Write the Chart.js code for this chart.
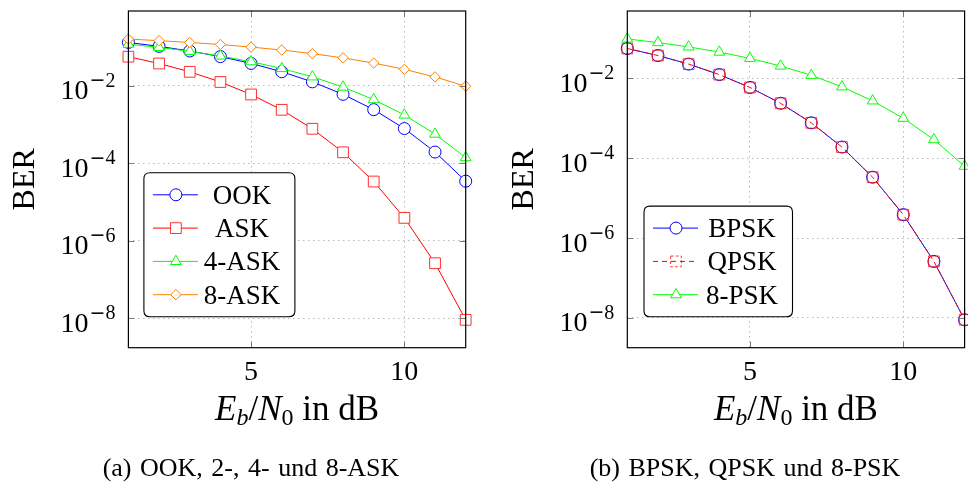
<!DOCTYPE html>
<html><head><meta charset="utf-8">
<script src="https://cdn.jsdelivr.net/npm/chart.js@4.4.1/dist/chart.umd.min.js"></script>
<style>
html,body{margin:0;padding:0;background:#fff;}
#wrap{position:relative;width:968px;height:490px;overflow:hidden;background:#fff;}
.cv{position:absolute;top:0;width:484px;height:490px;}
.cap{position:absolute;top:452px;font-family:"Liberation Serif","Times New Roman",serif;font-size:26px;line-height:32px;color:#000;white-space:nowrap;text-align:center;width:420px;word-spacing:2px;}
</style></head>
<body><div id="wrap">
<div class="cv" style="left:0"><canvas id="c1" width="484" height="490"></canvas></div>
<div class="cv" style="left:484px"><canvas id="c2" width="484" height="490"></canvas></div>
<div class="cap" style="left:41px">(a) OOK, 2-, 4- und 8-ASK</div>
<div class="cap" style="left:535px">(b) BPSK, QPSK und 8-PSK</div>
</div>
<script>
// ---- data ----
const ebn0 = [1, 2, 3, 4, 5, 6, 7, 8, 9, 10, 11, 12];
const xTicks = [5, 10];
const yTickExps = [-2, -4, -6, -8];

const berOOK  = [1.31e-1, 1.04e-1, 7.89e-2, 5.65e-2, 3.77e-2, 2.30e-2, 1.26e-2, 6.0e-3, 2.41e-3, 7.83e-4, 1.94e-4, 3.43e-5];
const berASK  = [5.63e-2, 3.75e-2, 2.29e-2, 1.25e-2, 5.95e-3, 2.39e-3, 7.73e-4, 1.91e-4, 3.36e-5, 3.87e-6, 2.61e-7, 9.0e-9];
const ber4ASK = [1.18e-1, 9.76e-2, 7.74e-2, 5.86e-2, 4.19e-2, 2.79e-2, 1.70e-2, 9.25e-3, 4.39e-3, 1.76e-3, 5.64e-4, 1.39e-4];
const ber8ASK = [1.60e-1, 1.46e-1, 1.31e-1, 1.16e-1, 9.97e-2, 8.35e-2, 6.75e-2, 5.23e-2, 3.85e-2, 2.65e-2, 1.69e-2, 9.72e-3];

const berBPSK = [5.63e-2, 3.75e-2, 2.29e-2, 1.25e-2, 5.95e-3, 2.39e-3, 7.73e-4, 1.91e-4, 3.36e-5, 3.87e-6, 2.61e-7, 9.0e-9];
const berQPSK = [5.63e-2, 3.75e-2, 2.29e-2, 1.25e-2, 5.95e-3, 2.39e-3, 7.73e-4, 1.91e-4, 3.36e-5, 3.87e-6, 2.61e-7, 9.0e-9];
const ber8PSK = [9.77e-2, 7.93e-2, 6.18e-2, 4.58e-2, 3.19e-2, 2.05e-2, 1.20e-2, 6.18e-3, 2.75e-3, 1.01e-3, 2.94e-4, 6.33e-5];

const labelsA = ['OOK', 'ASK', '4-ASK', '8-ASK'];
const labelsB = ['BPSK', 'QPSK', '8-PSK'];
const captionX = ' in dB';

// ---- helpers ----
const FONT = '"Liberation Serif", "Times New Roman", serif';
const BLUE = '#0000ff', RED = '#ff0000', GREEN = '#00ff00', ORANGE = '#ff8000';

function ds(label, values, color, style, radius, idx, extra) {
  return Object.assign({
    label: label,
    data: ebn0.map((x, i) => ({ x: x, y: values[i] })),
    borderColor: color, backgroundColor: color, borderWidth: 1,
    pointStyle: style, pointRadius: radius, pointBorderColor: color,
    pointBackgroundColor: '#ffffff', pointBorderWidth: 1,
    tension: 0, fill: false, clip: false, order: -idx
  }, extra || {});
}

function drawMarker(ctx, d, x, y, dashed) {
  ctx.save();
  ctx.fillStyle = d.pointBackgroundColor;
  ctx.strokeStyle = d.pointBorderColor;
  ctx.lineWidth = d.pointBorderWidth;
  ctx.setLineDash(dashed ? [3, 2] : []);
  if (Chart.helpers && Chart.helpers.drawPoint) {
    Chart.helpers.drawPoint(ctx, { pointStyle: d.pointStyle, rotation: 0, radius: d.pointRadius, borderWidth: d.pointBorderWidth }, x, y);
  } else {
    ctx.beginPath(); ctx.arc(x, y, d.pointRadius, 0, Math.PI * 2); ctx.fill(); ctx.stroke();
  }
  ctx.restore();
}

function drawLegend(chart, L) {
  const ctx = chart.ctx, ca = chart.chartArea;
  const dss = chart.data.datasets;
  const n = dss.length, pitch = 33.3, pad = 22;
  const h = 2 * pad + (n - 1) * pitch;
  const x0 = ca.left + L.dx, y1 = ca.bottom - L.dy, y0 = y1 - h;
  ctx.save();
  const tc = x0 + 98;
  const w = L.w;
  const r = 6;
  ctx.beginPath();
  ctx.moveTo(x0 + r, y0); ctx.lineTo(x0 + w - r, y0); ctx.quadraticCurveTo(x0 + w, y0, x0 + w, y0 + r);
  ctx.lineTo(x0 + w, y1 - r); ctx.quadraticCurveTo(x0 + w, y1, x0 + w - r, y1);
  ctx.lineTo(x0 + r, y1); ctx.quadraticCurveTo(x0, y1, x0, y1 - r);
  ctx.lineTo(x0, y0 + r); ctx.quadraticCurveTo(x0, y0, x0 + r, y0);
  ctx.closePath();
  ctx.fillStyle = '#ffffff'; ctx.fill();
  ctx.strokeStyle = '#000'; ctx.lineWidth = 1.1; ctx.stroke();
  dss.forEach((d, i) => {
    const y = y0 + pad + i * pitch;
    ctx.save();
    ctx.strokeStyle = d.borderColor; ctx.lineWidth = d.borderWidth;
    ctx.setLineDash(d.borderDash || []);
    ctx.beginPath(); ctx.moveTo(x0 + 9, y); ctx.lineTo(x0 + 54, y); ctx.stroke();
    ctx.restore();
    drawMarker(ctx, d, x0 + 32, y, !!d.borderDash);
    ctx.fillStyle = '#000'; ctx.textAlign = 'center'; ctx.textBaseline = 'alphabetic';
    ctx.font = '27px ' + FONT;
    ctx.fillText(d.label, tc, y + 9);
  });
  ctx.restore();
}

function decor(L) {
  return {
    id: 'decor',
    afterDatasetsDraw(chart) { drawLegend(chart, L); },
    afterDraw(chart) {
      const ctx = chart.ctx, ca = chart.chartArea, xs = chart.scales.x, ys = chart.scales.y;
      ctx.save();
      // inner tick marks
      ctx.strokeStyle = '#7a7a7a'; ctx.lineWidth = 1;
      ctx.beginPath();
      xTicks.forEach(v => {
        const x = Math.round(xs.getPixelForValue(v)) + 0.5;
        ctx.moveTo(x, ca.top); ctx.lineTo(x, ca.top + 6);
        ctx.moveTo(x, ca.bottom); ctx.lineTo(x, ca.bottom - 6);
      });
      yTickExps.forEach(e => {
        const y = Math.round(ys.getPixelForValue(Math.pow(10, e))) + 0.5;
        ctx.moveTo(ca.left, y); ctx.lineTo(ca.left + 6, y);
        ctx.moveTo(ca.right, y); ctx.lineTo(ca.right - 6, y);
      });
      ctx.stroke();
      // axis box
      ctx.strokeStyle = '#000'; ctx.lineWidth = 1.2;
      ctx.strokeRect(ca.left, ca.top, ca.right - ca.left, ca.bottom - ca.top);
      // x tick labels
      ctx.fillStyle = '#000'; ctx.textBaseline = 'alphabetic';
      ctx.font = '28px ' + FONT; ctx.textAlign = 'center';
      xTicks.forEach(v => ctx.fillText(String(v), xs.getPixelForValue(v), ca.bottom + 32.5));
      // y tick labels 10^e
      ctx.textAlign = 'left';
      yTickExps.forEach(e => {
        const y = ys.getPixelForValue(Math.pow(10, e));
        const right = ca.left - 13;
        ctx.font = '28px ' + FONT; const wb = ctx.measureText('10').width;
        ctx.font = '19px "DejaVu Sans", sans-serif'; const wm = ctx.measureText('\u2212').width;
        ctx.font = '20px ' + FONT; const wd = ctx.measureText(String(-e)).width;
        const x = right - (wb + 1 + wm + wd);
        ctx.font = '28px ' + FONT; ctx.fillText('10', x, y + 13.5);
        ctx.font = '19px "DejaVu Sans", sans-serif'; ctx.fillText('\u2212', x + wb + 1, y + 0.5);
        ctx.font = '20px ' + FONT; ctx.fillText(String(-e), x + wb + 1 + wm, y + 1);
      });
      // y title
      ctx.save();
      ctx.translate(ca.left - 94, (ca.top + ca.bottom) / 2);
      ctx.rotate(-Math.PI / 2);
      ctx.font = '32px ' + FONT; ctx.textAlign = 'center';
      ctx.fillText('BER', 0, 0);
      ctx.restore();
      // x title  E_b/N_0 in dB
      const parts = [
        { t: 'E', f: 'italic 35px ' + FONT, dy: 0 },
        { t: 'b', f: 'italic 24px ' + FONT, dy: 5 },
        { t: '/', f: '35px ' + FONT, dy: 0 },
        { t: 'N', f: 'italic 35px ' + FONT, dy: 0 },
        { t: '0', f: '24px ' + FONT, dy: 5 },
        { t: captionX, f: '35px ' + FONT, dy: 0 }
      ];
      let tw = 0;
      parts.forEach(p => { ctx.font = p.f; p.w = ctx.measureText(p.t).width; tw += p.w; });
      let px = (ca.left + ca.right) / 2 - tw / 2;
      const base = ca.bottom + 72.5;
      parts.forEach(p => { ctx.font = p.f; ctx.fillText(p.t, px, base + p.dy); px += p.w; });
      ctx.restore();
    }
  };
}

function makeChart(id, datasets, yMinExp, yMaxExp, pad, L) {
  return new Chart(document.getElementById(id), {
    type: 'line',
    data: { datasets: datasets },
    options: {
      responsive: false, animation: false, events: [],
      layout: { padding: pad, autoPadding: false },
      plugins: { legend: { display: false }, tooltip: { enabled: false } },
      scales: {
        x: {
          type: 'linear', min: 1, max: 12, bounds: 'data',
          afterBuildTicks: s => { s.ticks = xTicks.map(v => ({ value: v })); },
          ticks: { display: false },
          grid: { color: '#b8b8b8', lineWidth: 1, drawTicks: false },
          border: { display: false, dash: [1.5, 3.5] },
          title: { display: false }
        },
        y: {
          type: 'logarithmic', min: Math.pow(10, yMinExp), max: Math.pow(10, yMaxExp), bounds: 'data',
          afterBuildTicks: s => { s.ticks = yTickExps.map(e => ({ value: Math.pow(10, e) })); },
          ticks: { display: false },
          grid: { color: '#b8b8b8', lineWidth: 1, drawTicks: false },
          border: { display: false, dash: [1.5, 3.5] },
          title: { display: false }
        }
      }
    },
    plugins: [decor(L)]
  });
}

const dsA = [
  ds(labelsA[0], berOOK, BLUE, 'circle', 6, 0),
  ds(labelsA[1], berASK, RED, 'rect', 7.6, 1, { pointBorderColor: '#ff3030' }),
  ds(labelsA[2], ber4ASK, GREEN, 'triangle', 6.2, 2),
  ds(labelsA[3], ber8ASK, ORANGE, 'rectRot', 5.2, 3)
];
const dsB = [
  ds(labelsB[0], berBPSK, BLUE, 'circle', 6, 0),
  ds(labelsB[1], berQPSK, RED, 'rect', 7.6, 1, { borderDash: [5, 4], pointBackgroundColor: 'rgba(255,255,255,0)', pointBorderColor: 'rgba(255,0,0,0.75)' }),
  ds(labelsB[2], ber8PSK, GREEN, 'triangle', 6.2, 2)
];

makeChart('c1', dsA, -8.765, -0.07, { left: 128.4, right: 18.3, top: 11, bottom: 142.3 }, { dx: 15.5, dy: 31, w: 151 });
makeChart('c2', dsB, -8.745, -0.31, { left: 143.3, right: 3.4, top: 11, bottom: 142.3 }, { dx: 16.7, dy: 31, w: 148.5 });
</script>
</body></html>
